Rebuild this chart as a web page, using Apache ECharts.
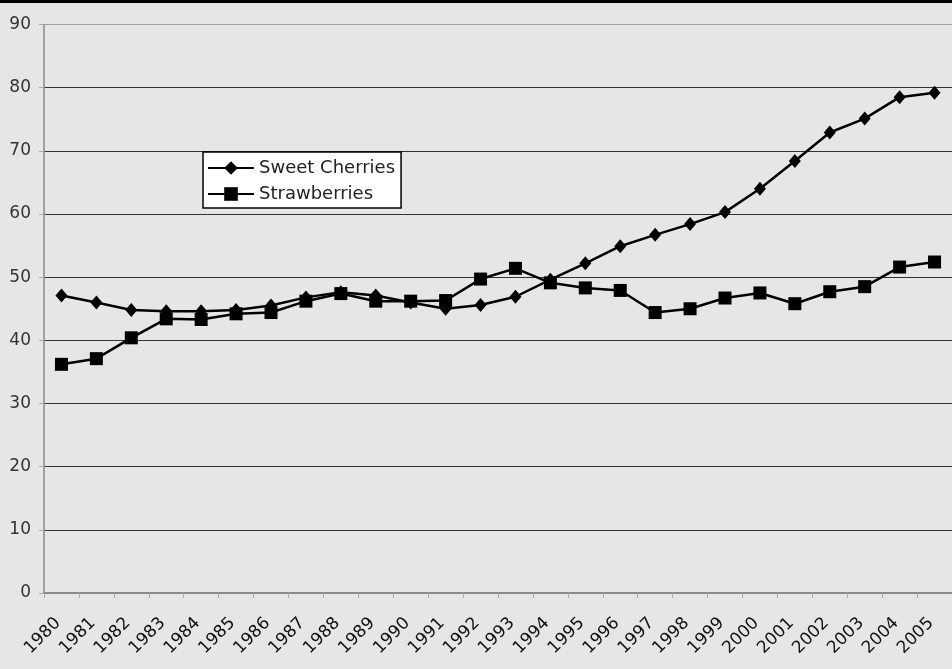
<!DOCTYPE html>
<html>
<head>
<meta charset="utf-8">
<script src="https://cdn.jsdelivr.net/npm/echarts@6/dist/echarts.min.js"></script>
<style>
html,body{margin:0;padding:0;background:#e6e6e6;}
#chart{width:952px;height:669px;}
</style>
</head>
<body>
<div id="chart"></div>
<script>
var years = ['1980','1981','1982','1983','1984','1985','1986','1987','1988','1989','1990','1991','1992','1993','1994','1995','1996','1997','1998','1999','2000','2001','2002','2003','2004','2005'];
var sweetCherries = [47.1,46.0,44.8,44.6,44.6,44.8,45.5,46.8,47.6,47.1,46.0,45.0,45.6,46.9,49.6,52.2,54.9,56.7,58.4,60.3,64.0,68.4,72.9,75.1,78.5,79.2];
var strawberries = [36.2,37.1,40.4,43.4,43.3,44.2,44.4,46.2,47.4,46.2,46.2,46.3,49.7,51.4,49.1,48.3,47.9,44.4,45.0,46.7,47.5,45.8,47.7,48.5,51.6,52.4];
var yTicks = {min:0, max:90, interval:10};

var chart = echarts.init(document.getElementById('chart'));
var font = 'DejaVu Sans, Verdana, sans-serif';
chart.setOption({
  backgroundColor:'#e6e6e6',
  animation:false,
  graphic:[{type:'rect',shape:{x:0,y:0,width:952,height:3},style:{fill:'#000'}}],
  grid:{left:44,top:24.5,bottom:76,right:-16,containLabel:false},
  legend:{
    orient:'vertical', left:203, top:152,
    backgroundColor:'#ffffff', borderColor:'#000', borderWidth:1.5,
    padding:[6,6,4,4], itemWidth:46, itemHeight:17, itemGap:6,
    textStyle:{fontFamily:font,fontSize:18,lineHeight:20,color:'#222'},
    data:['Sweet Cherries','Strawberries']
  },
  xAxis:{
    type:'category', data:years, boundaryGap:true,
    axisLine:{lineStyle:{color:'#8a8a8a',width:2}},
    axisTick:{show:true,length:5,lineStyle:{color:'#aaa'}},
    axisLabel:{rotate:45,interval:0,fontFamily:font,fontSize:17,color:'#111',margin:24,padding:[0,5,0,0]},
    splitLine:{show:false}
  },
  yAxis:{
    type:'value', min:yTicks.min, max:yTicks.max, interval:yTicks.interval,
    axisLine:{show:true,lineStyle:{color:'#8a8a8a',width:1.5}},
    axisTick:{show:true,length:5,lineStyle:{color:'#aaa'}},
    axisLabel:{fontFamily:font,fontSize:17,color:'#333',margin:13},
    splitLine:{show:true,lineStyle:{color:['#333','#333','#333','#333','#333','#333','#333','#333','#333','#a0a0a0'],width:1.2}}
  },
  series:[
    {name:'Sweet Cherries',type:'line',data:sweetCherries,symbol:'diamond',symbolSize:[12,14],
     lineStyle:{color:'#000',width:2.5},itemStyle:{color:'#000'}},
    {name:'Strawberries',type:'line',data:strawberries,symbol:'rect',symbolSize:13,
     lineStyle:{color:'#000',width:2.5},itemStyle:{color:'#000'}}
  ]
});
</script>
</body>
</html>
